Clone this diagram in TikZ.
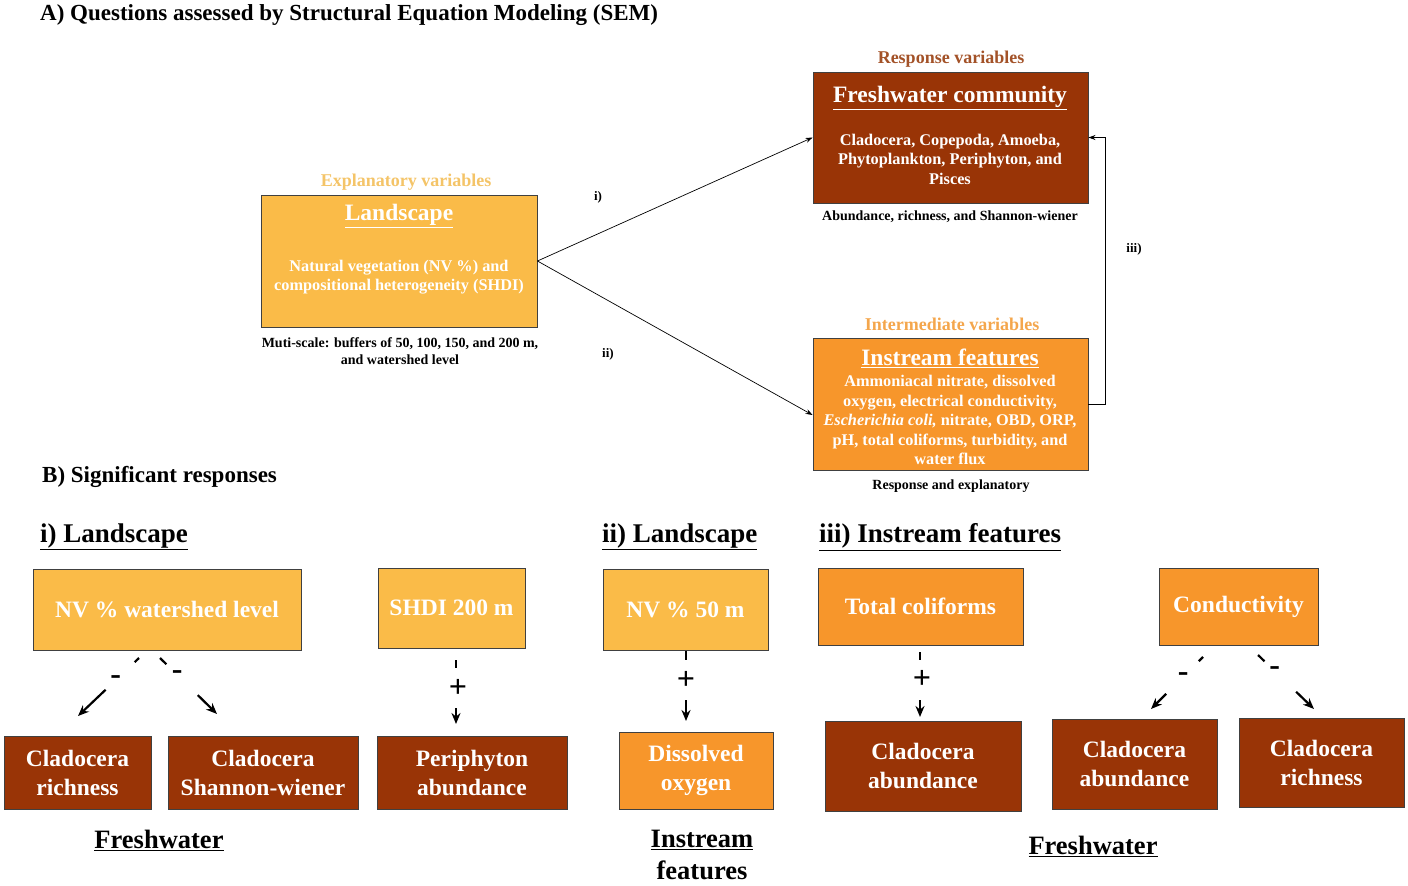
\documentclass[tikz,border=0pt]{standalone}
\usepackage{fontspec}
\setmainfont{Liberation Serif}
\usetikzlibrary{arrows.meta}
\definecolor{lightor}{RGB}{250,187,72}
\definecolor{midor}{RGB}{247,150,43}
\definecolor{brownbox}{RGB}{153,52,6}
\definecolor{expltxt}{RGB}{244,196,104}
\definecolor{resptxt}{RGB}{163,82,40}
\definecolor{intertxt}{RGB}{244,166,76}
\newcommand{\fsz}[2]{\fontsize{#1}{#2}\selectfont}
\begin{document}
\begin{tikzpicture}[x=1pt,y=-1pt,
  box/.style={draw=black!75, line width=0.9pt, inner sep=0pt, align=center, text=white},
  lbox/.style={box, fill=lightor},
  obox/.style={box, fill=midor},
  bbox/.style={box, fill=brownbox},
  btxt/.style={font=\fsz{23.5}{29}\bfseries},
  tit/.style={inner sep=0pt, font=\fsz{23}{26}\bfseries},
  sect/.style={inner sep=0pt, font=\fsz{27}{30}\bfseries},
  hdr/.style={inner sep=0pt, text=white, font=\fsz{23.5}{26}\bfseries},
  body/.style={inner sep=0pt, align=center, text=white, font=\fsz{16.3}{19.5}\bfseries},
  lab/.style={inner sep=0pt, font=\fsz{18}{20}\bfseries},
  note/.style={inner sep=0pt, align=center, font=\fsz{14}{17}\bfseries},
  roman/.style={inner sep=0pt, font=\fsz{13}{15}\bfseries},
  under/.style={inner sep=0pt, align=center, font=\fsz{26.5}{32}\bfseries},
  sign/.style={inner sep=0pt, font=\fsz{32}{32}\bfseries},
  thinarrow/.style={line width=0.7pt, -{Stealth[length=7pt,width=5pt]}},
  sigarrow/.style={line width=2.2pt, -{Stealth[length=11pt,width=9pt]}}
]
\useasboundingbox (0,0) rectangle (1408,886);

% ---------- Part A ----------
\node[tit, anchor=west] (titA) at (40,15) {A) Questions assessed by Structural Equation Modeling (SEM)};

\node[lbox, minimum width=276pt, minimum height=132pt] (land) at (399,261) {};
\node[lab, text=expltxt] (landL) at (406,182) {Explanatory variables};
\node[hdr] (landT) at (399,216) {\underline{Landscape}};
\node[body] (landB) at (399,277) {Natural vegetation (NV \%) and\\compositional heterogeneity (SHDI)};
\node[note] (landN) at (400,351) {Muti-scale: buffers of 50, 100, 150, and 200 m,\\and watershed level};

\node[bbox, minimum width=275pt, minimum height=131pt] (fw) at (950.5,137.5) {};
\node[lab, text=resptxt] (fwL) at (951,59) {Response variables};
\node[hdr] (fwT) at (950,98) {\underline{Freshwater community}};
\node[body] (fwB) at (950,159) {Cladocera, Copepoda, Amoeba,\\Phytoplankton, Periphyton, and\\Pisces};
\node[note] (fwN) at (950,217) {Abundance, richness, and Shannon-wiener};

\node[obox, minimum width=275pt, minimum height=132pt] (is) at (950.5,404) {};
\node[lab, text=intertxt] (isL) at (952,324) {Intermediate variables};
\node[hdr] (isT) at (950,358) {\underline{Instream features}};
\node[body] (isB) at (950,420) {Ammoniacal nitrate, dissolved\\oxygen, electrical conductivity,\\\textit{Escherichia coli,} nitrate, OBD, ORP,\\pH, total coliforms, turbidity, and\\water flux};
\node[note] (isN) at (951,486) {Response and explanatory};

\draw[thinarrow] (land.east) -- (fw.west);
\draw[thinarrow] (land.east) -- ([yshift=-11pt]is.west);
\draw[thinarrow] (is.east) -- ++(17,0) |- (fw.east);
\node[roman] (ri) at (598,197) {i)};
\node[roman] (rii) at (608,354) {ii)};
\node[roman] (riii) at (1134,249) {iii)};

% ---------- Part B ----------
\node[tit, anchor=west] (titB) at (42,477) {B) Significant responses};
\node[sect, anchor=west] (s1) at (40,537) {\underline{i) Landscape}};
\node[sect, anchor=west] (s2) at (602,537) {\underline{ii) Landscape}};
\node[sect, anchor=west] (s3) at (819,537) {\underline{iii) Instream features}};

\node[lbox, btxt, minimum width=268pt, minimum height=81pt] (nvw) at (167,609.5) {NV \% watershed level};
\node[lbox, btxt, minimum width=147pt, minimum height=80pt] (shdi) at (451.5,608) {SHDI 200 m};
\node[bbox, btxt, minimum width=147pt, minimum height=73pt] (cr1) at (77.5,772.5) {Cladocera\\richness};
\node[bbox, btxt, minimum width=190pt, minimum height=73pt] (csw) at (263,772.5) {Cladocera\\Shannon-wiener};
\node[bbox, btxt, minimum width=190pt, minimum height=73pt] (pa) at (472,772.5) {Periphyton\\abundance};
\node[under] (fwlab1) at (159,840) {\underline{Freshwater}};

\node[lbox, btxt, minimum width=165pt, minimum height=81pt] (nv50) at (685.5,609.5) {NV \% 50 m};
\node[obox, btxt, minimum width=154pt, minimum height=77pt] (do) at (696,770.5) {Dissolved\\oxygen};
\node[under] (islab) at (702,855) {\underline{Instream}\\features};

\node[obox, btxt, minimum width=205pt, minimum height=77pt] (tc) at (920.5,606.5) {Total coliforms};
\node[bbox, btxt, minimum width=196pt, minimum height=90pt] (ca1) at (923,766) {Cladocera\\abundance};
\node[obox, btxt, minimum width=159pt, minimum height=77pt] (cond) at (1238.5,606.5) {Conductivity};
\node[bbox, btxt, minimum width=165pt, minimum height=90pt] (ca2) at (1134.5,764) {Cladocera\\abundance};
\node[bbox, btxt, minimum width=165pt, minimum height=89pt] (cr2) at (1321.5,762.5) {Cladocera\\richness};
\node[under] (fwlab2) at (1093,846) {\underline{Freshwater}};

% connector end points
\coordinate (a1s) at (139,658);  \coordinate (a1e) at (78,716);
\coordinate (a2s) at (160,658);  \coordinate (a2e) at (217,714);
\coordinate (a3s) at (456,660);  \coordinate (a3e) at (456,724);
\coordinate (a4s) at (686,651);  \coordinate (a4e) at (686,721);
\coordinate (a5s) at (920,652);  \coordinate (a5e) at (920,717);
\coordinate (a6s) at (1203,657); \coordinate (a6e) at (1151,709);
\coordinate (a7s) at (1258,655); \coordinate (a7e) at (1314,709);

\draw[sigarrow, dash pattern=on 6pt off 40pt on 200pt] (a1s) -- node[sign, pos=0.38] {-} (a1e);
\draw[sigarrow, dash pattern=on 9pt off 44pt on 200pt] (a2s) -- node[sign, pos=0.3] {-} (a2e);
\draw[sigarrow, dash pattern=on 8pt off 40pt on 200pt] (a3s) -- node[sign, pos=0.45, xshift=2pt] {+} (a3e);
\draw[sigarrow, dash pattern=on 9pt off 40pt on 200pt] (a4s) -- node[sign, pos=0.42] {+} (a4e);
\draw[sigarrow, dash pattern=on 8pt off 40pt on 200pt] (a5s) -- node[sign, pos=0.43, xshift=2pt] {+} (a5e);
\draw[sigarrow, dash pattern=on 6pt off 46pt on 200pt] (a6s) -- node[sign, pos=0.38] {-} (a6e);
\draw[sigarrow, dash pattern=on 9pt off 44pt on 200pt] (a7s) -- node[sign, pos=0.3] {-} (a7e);
\end{tikzpicture}
\end{document}
